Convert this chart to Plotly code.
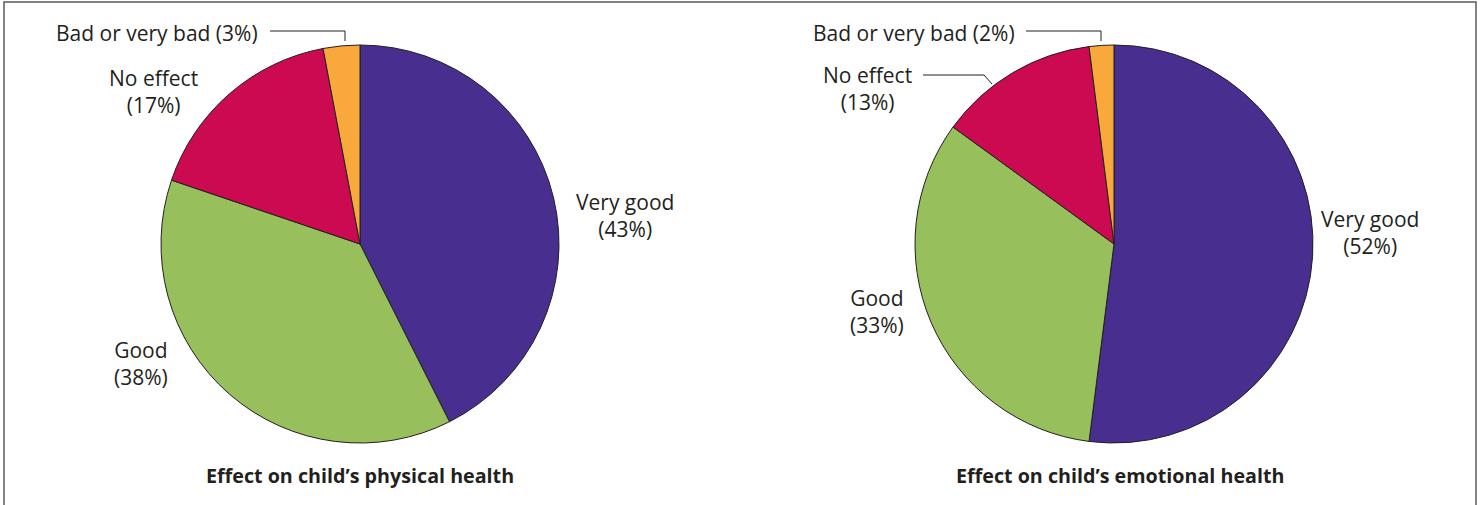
import plotly.graph_objects as go

W, H = 1484, 505

categories = ["Very good", "Good", "No effect", "Bad or very bad"]
physical = [43, 38, 17, 3]
emotional = [52, 33, 13, 2]
colors = ["#482E8E", "#97BF5B", "#CB0A52", "#F9A93C"]
titles = ["Effect on child\u2019s physical health", "Effect on child\u2019s emotional health"]

FONT = "Open Sans"
TXT = "#231F20"


def px(x):
    return x / W


def py(y):
    return 1 - y / H


def pie_domain(cx, cy, r):
    return dict(x=[px(cx - r), px(cx + r)], y=[py(cy + r), py(cy - r)])


fig = go.Figure()
for vals, (cx, cy) in [(physical, (360, 244)), (emotional, (1114, 244))]:
    fig.add_trace(go.Pie(
        labels=categories, values=vals, sort=False, direction="clockwise",
        marker=dict(colors=colors, line=dict(color=TXT, width=1)),
        textinfo="none", hoverinfo="label+percent", showlegend=False,
        domain=pie_domain(cx, cy, 199),
    ))

ann = []
LS = 21


def label(text, x, y, size=LS):
    ann.append(dict(text=text, x=px(x), y=py(y), xref="paper", yref="paper",
                    showarrow=False, xanchor="center", yanchor="middle",
                    font=dict(family=FONT, size=size, color=TXT)))


# left pie labels
label(f"{categories[3]} ({physical[3]}%)", 157, 33)
label(f"{categories[2]}<br>({physical[2]}%)", 153, 92)
label(f"{categories[0]}<br>({physical[0]}%)", 625, 216)
label(f"{categories[1]}<br>({physical[1]}%)", 141, 363)
# right pie labels
label(f"{categories[3]} ({emotional[3]}%)", 914, 33)
label(f"{categories[2]}<br>({emotional[2]}%)", 867, 89)
label(f"{categories[0]}<br>({emotional[0]}%)", 1370, 233)
label(f"{categories[1]}<br>({emotional[1]}%)", 877, 311)
# titles
for t, x in zip(titles, [360, 1120]):
    ann.append(dict(text=f"<b>{t}</b>", x=px(x), y=py(475), xref="paper", yref="paper",
                    showarrow=False, xanchor="center", yanchor="middle",
                    font=dict(family=FONT, size=19.7, color=TXT)))

shapes = []


def path(points):
    d = "M " + " L ".join(f"{px(x)},{py(y)}" for x, y in points)
    shapes.append(dict(type="path", path=d, xref="paper", yref="paper",
                       line=dict(color=TXT, width=1)))


path([(270, 31), (345, 31), (345, 41)])
path([(1026, 31), (1101, 31), (1101, 41)])
path([(923, 75), (984, 75), (992, 84)])

# outer frame
shapes.append(dict(type="rect", xref="paper", yref="paper",
                   x0=px(4), x1=px(1476), y0=-0.2, y1=py(2),
                   line=dict(color="#5a5a5a", width=1.5), fillcolor="rgba(0,0,0,0)"))

fig.update_layout(
    width=W, height=H, margin=dict(l=0, r=0, t=0, b=0),
    paper_bgcolor="white", plot_bgcolor="white",
    annotations=ann, shapes=shapes,
    font=dict(family=FONT, color=TXT),
)

fig.write_html("out.html")
